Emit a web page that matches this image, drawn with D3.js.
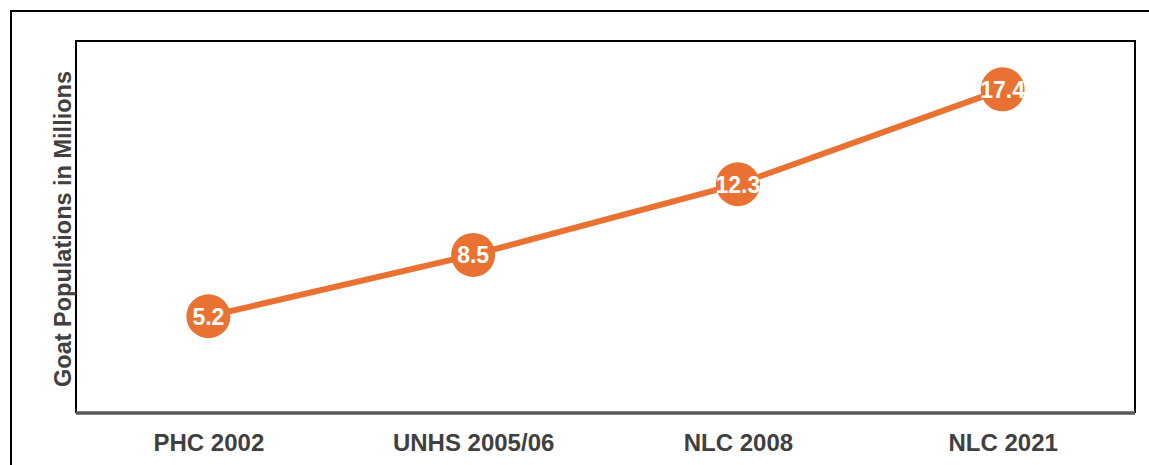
<!DOCTYPE html>
<html>
<head>
<meta charset="utf-8">
<script src="https://cdn.jsdelivr.net/npm/d3@7"></script>
<style>
  html, body { margin: 0; padding: 0; background: #fff; }
  svg { display: block; }
  text { font-family: "Liberation Sans", Arial, sans-serif; font-weight: bold; }
</style>
</head>
<body>
<svg id="chart" width="1149" height="465"></svg>
<script>
const categories = ["PHC 2002", "UNHS 2005/06", "NLC 2008", "NLC 2021"];
const values = [5.2, 8.5, 12.3, 17.4];
const yDomain = [0, 20];
const yTitle = "Goat Populations in Millions";

const W = 1149, H = 465;
const plot = { left: 76, top: 41, right: 1135, bottom: 413 };
const orange = "#E97132";
const textGray = "#404040";

const svg = d3.select("#chart");

// outer frame (extends beyond the right and bottom edges)
svg.append("rect")
  .attr("x", 11).attr("y", 11)
  .attr("width", W).attr("height", H)
  .attr("fill", "none").attr("stroke", "#000").attr("stroke-width", 2);

const x = d3.scalePoint().domain(categories).range([plot.left, plot.right]).padding(0.5);
const y = d3.scaleLinear().domain(yDomain).range([plot.bottom, plot.top]);

// plot frame (left, top, right)
svg.append("path")
  .attr("d", `M${plot.left},${plot.bottom}V${plot.top}H${plot.right}V${plot.bottom}`)
  .attr("fill", "none").attr("stroke", "#000").attr("stroke-width", 2);

// x axis
const xAxis = svg.append("g")
  .attr("transform", `translate(0,${plot.bottom})`)
  .call(d3.axisBottom(x).tickSize(0).tickPadding(0));
xAxis.select(".domain")
  .attr("d", `M${plot.left},0H${plot.right}`)
  .attr("stroke", "#595959").attr("stroke-width", 3.5);
xAxis.selectAll(".tick text")
  .attr("y", 38).attr("dy", 0)
  .attr("fill", textGray)
  .style("font-size", "24px")
  .style("font-family", "'Liberation Sans', Arial, sans-serif")
  .style("font-weight", "bold");

// y title
svg.append("text")
  .attr("transform", `translate(71,${(plot.top + plot.bottom) / 2 + 2}) rotate(-90)`)
  .attr("text-anchor", "middle")
  .attr("fill", textGray)
  .style("font-size", "23.5px")
  .text(yTitle);

const data = categories.map((c, i) => ({ c, v: values[i] }));

// line
svg.append("path")
  .datum(data)
  .attr("fill", "none")
  .attr("stroke", orange)
  .attr("stroke-width", 6)
  .attr("d", d3.line().x(d => x(d.c)).y(d => y(d.v)));

// markers
svg.selectAll("circle.pt")
  .data(data).enter().append("circle")
  .attr("class", "pt")
  .attr("cx", d => x(d.c)).attr("cy", d => y(d.v))
  .attr("r", 22)
  .attr("fill", orange);

// labels
svg.selectAll("text.lbl")
  .data(data).enter().append("text")
  .attr("class", "lbl")
  .attr("x", d => x(d.c)).attr("y", d => y(d.v) + 8.5)
  .attr("text-anchor", "middle")
  .attr("fill", "#fff")
  .style("font-size", "23px")
  .text(d => d.v.toFixed(1));
</script>
</body>
</html>
